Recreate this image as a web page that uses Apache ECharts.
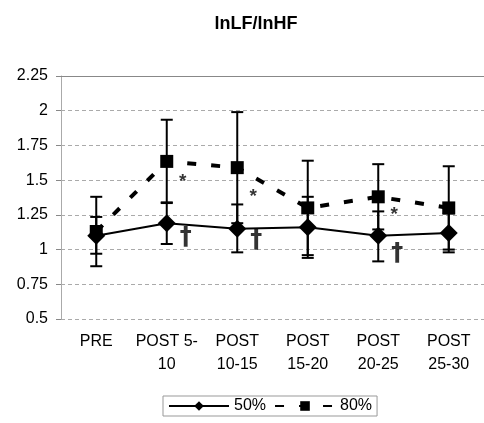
<!DOCTYPE html>
<html>
<head>
<meta charset="utf-8">
<script src="https://cdn.jsdelivr.net/npm/echarts@6/dist/echarts.min.js"></script>
<style>
  html, body { margin: 0; padding: 0; background: #fff; }
  #chart { width: 484px; height: 423px; }
</style>
</head>
<body>
<div id="chart"></div>
<script>
// ---- data ----
var categories = ['PRE', 'POST 5-\n10', 'POST\n10-15', 'POST\n15-20', 'POST\n20-25', 'POST\n25-30'];
var seriesNames = ['50%', '80%'];
var mean50 = [1.10, 1.19, 1.15, 1.16, 1.10, 1.12];
var low50  = [0.97, 1.04, 0.98, 0.94, 0.915, 0.98];
var high50 = [1.235, 1.335, 1.325, 1.38, 1.275, 1.26];
var mean80 = [1.13, 1.635, 1.59, 1.30, 1.38, 1.30];
var low80  = [0.88, 1.34, 1.19, 0.96, 1.145, 1.00];
var high80 = [1.38, 1.935, 1.99, 1.64, 1.615, 1.60];
var starValues   = [null, 1.51, 1.40, null, 1.27, null];
var daggerValues = [null, 1.09, 1.07, null, 0.98, null];
var yTicks = { min: 0.5, max: 2.25, interval: 0.25 };

var FONT = '"Liberation Sans", Arial, sans-serif';

function errData(lo, hi) {
  return lo.map(function (v, i) { return [i, v, hi[i]]; });
}
function annData(vals) {
  var out = [];
  vals.forEach(function (v, i) { if (v !== null) out.push([i, v]); });
  return out;
}
function errRender(params, api) {
  var x = api.value(0);
  var p1 = api.coord([x, api.value(1)]);
  var p2 = api.coord([x, api.value(2)]);
  var hw = 6;
  var st = { stroke: '#000', lineWidth: 2 };
  return {
    type: 'group',
    children: [
      { type: 'line', shape: { x1: p1[0], y1: p1[1], x2: p2[0], y2: p2[1] }, style: st },
      { type: 'line', shape: { x1: p1[0] - hw, y1: p1[1], x2: p1[0] + hw, y2: p1[1] }, style: st },
      { type: 'line', shape: { x1: p2[0] - hw, y1: p2[1], x2: p2[0] + hw, y2: p2[1] }, style: st }
    ]
  };
}

var chart = echarts.init(document.getElementById('chart'), null, { renderer: 'canvas' });
chart.setOption({
  backgroundColor: '#fff',
  animation: false,
  title: {
    text: 'lnLF/lnHF',
    left: 251, top: 10, textAlign: 'center',
    textStyle: { fontFamily: FONT, fontSize: 18, fontWeight: 'bold', color: '#000' }
  },
  legend: {
    data: seriesNames,
    left: 163, top: 396,
    itemWidth: 60, itemHeight: 12, itemGap: 8,
    padding: [2, 5, 2, 5],
    borderColor: '#999', borderWidth: 1,
    textStyle: { fontFamily: FONT, fontSize: 16, color: '#000' }
  },
  grid: { left: 61, top: 76, width: 428, height: 243, containLabel: false },
  xAxis: [{
    type: 'category',
    data: categories,
    axisLine: { show: false },
    axisTick: { show: false },
    axisLabel: { fontFamily: FONT, fontSize: 16, color: '#000', lineHeight: 23, margin: 11, interval: 0 }
  }, {
    type: 'category',
    data: categories,
    position: 'top',
    axisLine: { show: true, lineStyle: { color: '#888', width: 1 } },
    axisTick: { show: false },
    axisLabel: { show: false }
  }],
  yAxis: {
    type: 'value',
    min: yTicks.min, max: yTicks.max, interval: yTicks.interval,
    axisLine: { show: true, lineStyle: { color: '#aaa', width: 1 } },
    axisTick: { show: true, length: 5, lineStyle: { color: '#888' } },
    axisLabel: { fontFamily: FONT, fontSize: 16, color: '#000', margin: 13 },
    splitLine: { show: true, lineStyle: { color: '#aaa', width: 1, type: [4, 3] } }
  },
  series: [
    {
      name: '50%', type: 'line', data: mean50, z: 5,
      symbol: 'diamond', symbolSize: 18,
      itemStyle: { color: '#000' },
      lineStyle: { color: '#000', width: 2 }
    },
    {
      name: '80%', type: 'line', data: mean80, z: 4,
      symbol: 'rect', symbolSize: 13,
      itemStyle: { color: '#000' },
      lineStyle: { color: '#000', width: 4, type: [9, 15] }
    },
    {
      type: 'custom', name: 'err80', data: errData(low80, high80),
      renderItem: errRender, z: 3, silent: true
    },
    {
      type: 'custom', name: 'err50', data: errData(low50, high50),
      renderItem: errRender, z: 3, silent: true
    },
    {
      type: 'scatter', name: 'star', data: annData(starValues),
      symbolSize: 0, silent: true,
      label: { show: true, position: 'inside', offset: [16, 3], formatter: '*',
        fontFamily: FONT, fontSize: 19, fontWeight: 'bold', color: '#000' }
    },
    {
      type: 'scatter', name: 'dagger', data: annData(daggerValues),
      symbolSize: 0, silent: true,
      label: { show: true, position: 'inside', offset: [19, 1], formatter: '\u2020',
        fontFamily: '"DejaVu Sans", sans-serif', fontSize: 24, fontWeight: 'bold', color: '#000' }
    }
  ]
});
</script>
</body>
</html>
